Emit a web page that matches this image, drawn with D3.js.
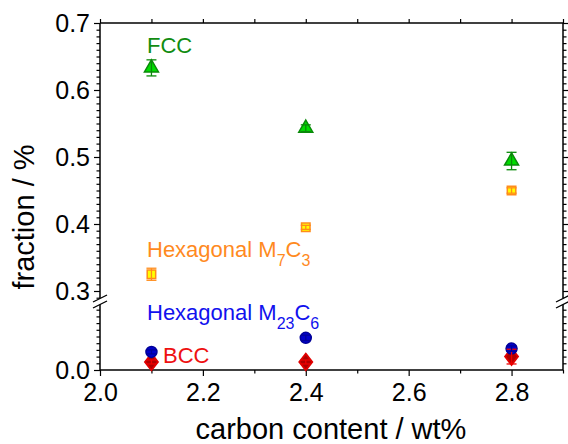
<!DOCTYPE html>
<html><head><meta charset="utf-8">
<script src="https://cdn.jsdelivr.net/npm/d3@7"></script>
<style>body{margin:0;background:#fff}svg{display:block}text{font-family:"Liberation Sans",Arial,sans-serif}</style>
</head><body>
<script>
const carbon = [2.1, 2.4, 2.8];
const fcc = [0.633, 0.543, 0.494];
const fccErr = [0.012, 0.005, 0.013];
const m7c3 = [0.325, 0.395, 0.450];
const m7c3Err = [0.009, 0.003, 0.004];
const m23c6 = [0.027, 0.048, 0.032];
const m23c6Err = [0.003, 0.004, 0.004];
const bcc = [0.012, 0.012, 0.020];
const bccErr = [0.003, 0.003, 0.011];
const xTicks = [2.0, 2.2, 2.4, 2.6, 2.8];
const yUpperTicks = [0.3, 0.4, 0.5, 0.6, 0.7];
const yLowerTicks = [0.0];

const W = 568, H = 444;
const svg = d3.select("body").append("svg").attr("width", W).attr("height", H);

const x = d3.scaleLinear().domain([2.0, 2.9]).range([100, 563]);
const yUp = d3.scaleLinear().domain([0.3, 0.7]).range([291, 23]);
const yLo = d3.scaleLinear().domain([0.0, 0.1]).range([370, 303]);
const upBottom = 298, loTop = 304;
const yOf = v => v >= 0.2 ? yUp(v) : yLo(v);

const minorUp = d3.range(29, 71).map(d => d / 100).filter(d => Math.round(d * 100) % 10 !== 0);
const minorLo = d3.range(1, 10).map(d => d / 100);

function styleAxis(g) {
  g.selectAll("path").remove();
  g.selectAll("line").attr("stroke", "#000").attr("stroke-width", 1.2);
  g.selectAll("text").attr("font-size", 25).attr("fill", "#000");
}

// Left axis
const gL = svg.append("g");
gL.append("g").attr("transform", "translate(100,0)")
  .call(d3.axisLeft(yUp).tickValues(yUpperTicks).tickSize(6).tickPadding(4).tickFormat(d3.format(".1f"))).call(styleAxis);
gL.append("g").attr("transform", "translate(100,0)")
  .call(d3.axisLeft(yUp).tickValues(minorUp).tickSize(3.5).tickFormat("")).call(styleAxis);
gL.append("g").attr("transform", "translate(100,0)")
  .call(d3.axisLeft(yLo).tickValues(yLowerTicks).tickSize(6).tickPadding(4).tickFormat(d3.format(".1f"))).call(styleAxis);
gL.append("g").attr("transform", "translate(100,0)")
  .call(d3.axisLeft(yLo).tickValues(minorLo).tickSize(3.5).tickFormat("")).call(styleAxis);

// Right axis (ticks outward, no labels)
const gR = svg.append("g");
gR.append("g").attr("transform", "translate(563,0)")
  .call(d3.axisRight(yUp).tickValues(yUpperTicks).tickSize(6).tickFormat("")).call(styleAxis);
gR.append("g").attr("transform", "translate(563,0)")
  .call(d3.axisRight(yUp).tickValues(minorUp).tickSize(3.5).tickFormat("")).call(styleAxis);
gR.append("g").attr("transform", "translate(563,0)")
  .call(d3.axisRight(yLo).tickValues(minorLo).tickSize(3.5).tickFormat("")).call(styleAxis);

// Bottom axis
svg.append("g").attr("transform", "translate(0,370)")
  .call(d3.axisBottom(x).tickValues(xTicks).tickSize(6).tickPadding(7).tickFormat(d3.format(".1f"))).call(styleAxis);
svg.append("g").attr("transform", "translate(0,370)")
  .call(d3.axisBottom(x).tickValues([2.1, 2.3, 2.5, 2.7, 2.9]).tickSize(3.5).tickFormat("")).call(styleAxis);
// Top axis
svg.append("g").attr("transform", "translate(0,23)")
  .call(d3.axisTop(x).tickValues(d3.range(20, 30).map(d => d / 10)).tickSize(4).tickFormat("")).call(styleAxis);

// Frame lines
const frame = svg.append("g").attr("stroke", "#000").attr("stroke-width", 1.5).attr("fill", "none");
frame.append("line").attr("x1", 100).attr("x2", 563).attr("y1", 23).attr("y2", 23);
frame.append("line").attr("x1", 100).attr("x2", 563).attr("y1", 370).attr("y2", 370);
[100, 563].forEach(px => {
  frame.append("line").attr("x1", px).attr("x2", px).attr("y1", 23).attr("y2", upBottom);
  frame.append("line").attr("x1", px).attr("x2", px).attr("y1", loTop).attr("y2", 370);
  svg.append("polygon").attr("points", `${px-7},${upBottom+4} ${px+7},${upBottom-3} ${px+7},${loTop-3} ${px-7},${loTop+4}`)
    .attr("fill", "#fff");
  [upBottom + 1, loTop + 1].forEach(cy => {
    svg.append("line").attr("x1", px - 7).attr("y1", cy + 3).attr("x2", px + 7).attr("y2", cy - 4)
      .attr("stroke", "#000").attr("stroke-width", 1.3);
  });
});

// Axis titles
svg.append("text").attr("x", 331).attr("y", 439).attr("text-anchor", "middle")
  .attr("font-size", 29).text("carbon content / wt%");
svg.append("text").attr("transform", "translate(34,217) rotate(-90)").attr("text-anchor", "middle")
  .attr("font-size", 29).text("fraction / %");

// Series
const series = [
  {vals: fcc, err: fccErr, shape: d3.symbolTriangle, size: 85, fill: "#00dd00", stroke: "#0a8a0a", errc: "#0a8a0a"},
  {vals: m7c3, err: m7c3Err, shape: d3.symbolSquare, size: 72, fill: "#ffff00", stroke: "#ff8c1a", errc: "#ff8c1a"},
  {vals: bcc, err: bccErr, shape: d3.symbolDiamond, size: 80, fill: "#b00000", stroke: "#e00000", errc: "#ee0000", dx: 1.35},
  {vals: m23c6, err: m23c6Err, shape: d3.symbolCircle, size: 95, fill: "#0000cc", stroke: "#000099", errc: "#000099"}
];
const markG = svg.append("g"), errG = svg.append("g");
series.forEach(s => {
  carbon.forEach((c, i) => {
    const cx = x(c), cy = yOf(s.vals[i]);
    markG.append("path").attr("d", d3.symbol().type(s.shape).size(s.size)())
      .attr("transform", `translate(${cx},${cy}) scale(${s.dx || 1},1)`)
      .attr("fill", s.fill).attr("stroke", s.stroke).attr("stroke-width", 1.5);
    const y1 = yOf(s.vals[i] + s.err[i]), y2 = yOf(s.vals[i] - s.err[i]);
    const eg = errG.append("g").attr("stroke", s.errc).attr("stroke-width", 1.3);
    eg.append("line").attr("x1", cx).attr("x2", cx).attr("y1", y1).attr("y2", y2);
    eg.append("line").attr("x1", cx - 5).attr("x2", cx + 5).attr("y1", y1).attr("y2", y1);
    eg.append("line").attr("x1", cx - 5).attr("x2", cx + 5).attr("y1", y2).attr("y2", y2);
  });
});

// Labels
function label(xp, yp, color, parts) {
  const t = svg.append("text").attr("x", xp).attr("y", yp).attr("font-size", 22).attr("fill", color);
  parts.forEach(p => {
    if (p.sub) t.append("tspan").attr("font-size", 16).attr("dy", 9).text(p.t);
    else t.append("tspan").attr("dy", p.up ? -9 : 0).text(p.t);
  });
}
label(147, 53, "#118c11", [{t: "FCC"}]);
label(147, 257, "#ff8a1e", [{t: "Hexagonal M"}, {t: "7", sub: true}, {t: "C", up: true}, {t: "3", sub: true}]);
label(147, 320, "#1111ee", [{t: "Hexagonal M"}, {t: "23", sub: true}, {t: "C", up: true}, {t: "6", sub: true}]);
label(163, 363, "#ee1111", [{t: "BCC"}]);
</script>
</body></html>
